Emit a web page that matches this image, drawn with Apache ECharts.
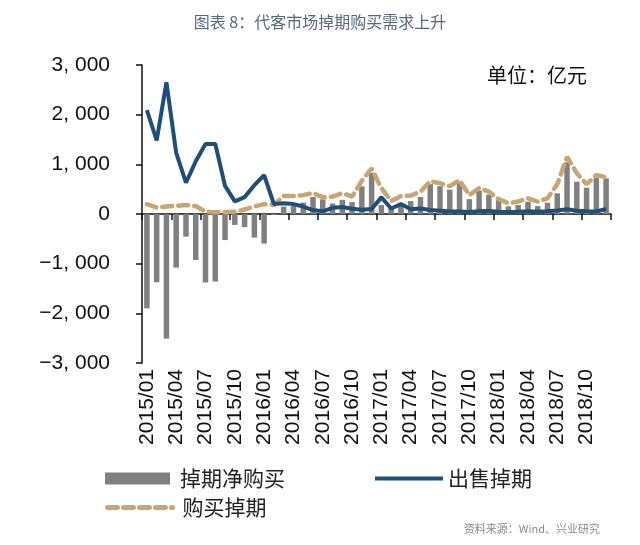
<!DOCTYPE html>
<html>
<head>
<meta charset="utf-8">
<script src="https://cdn.jsdelivr.net/npm/echarts@6/dist/echarts.min.js"></script>
<style>
html,body{margin:0;padding:0;background:#fff;}
#chart{width:640px;height:545px;}
</style>
</head>
<body>
<div id="chart"></div>
<script>
const categories = [
  '2015/01','2015/02','2015/03','2015/04','2015/05','2015/06','2015/07','2015/08','2015/09','2015/10','2015/11','2015/12',
  '2016/01','2016/02','2016/03','2016/04','2016/05','2016/06','2016/07','2016/08','2016/09','2016/10','2016/11','2016/12',
  '2017/01','2017/02','2017/03','2017/04','2017/05','2017/06','2017/07','2017/08','2017/09','2017/10','2017/11','2017/12',
  '2018/01','2018/02','2018/03','2018/04','2018/05','2018/06','2018/07','2018/08','2018/09','2018/10','2018/11','2018/12'
];
// 掉期净购买 (bars)
const netBuy = [
  -1900,-1375,-2510,-1080,-455,-925,-1380,-1360,-525,-220,-265,-475,
  -595,-20,150,160,230,345,295,210,285,240,555,830,
  180,135,160,260,345,600,560,490,640,300,470,390,
  280,155,180,248,160,228,416,1040,651,530,730,718
];
// 出售掉期 (solid line)
const sellSwap = [
  2090,1480,2650,1230,630,1060,1410,1410,565,255,340,580,
  780,200,215,200,150,80,55,125,140,105,85,100,
  335,110,200,95,110,80,65,50,50,40,55,60,
  45,40,45,55,45,55,70,95,65,55,50,100
];
// 购买掉期 (dashed line)
const buySwap = [
  200,130,150,165,180,160,45,35,35,45,90,150,
  200,180,365,360,380,420,340,350,420,350,670,920,
  520,260,362,370,450,660,620,560,680,380,520,450,
  300,215,250,315,250,315,600,1150,820,600,785,740
];
const yTicks = { min: -3000, max: 3000, interval: 1000 };

function fmt(v) {
  const a = Math.abs(v);
  let s;
  if (a >= 1000) {
    s = Math.floor(a / 1000) + ', ' + String(a % 1000).padStart(3, '0');
  } else {
    s = String(a);
  }
  return (v < 0 ? '\u2212' : '') + s;
}

const chart = echarts.init(document.getElementById('chart'), null, { renderer: 'canvas' });
const cjk = '"Noto Sans CJK SC", "Noto Sans", sans-serif';
const latin = '"Liberation Sans", Arial, sans-serif';
const tan = '#c8a674';
const navy = '#1f4e79';

const option = {
  backgroundColor: '#ffffff',
  animation: false,
  title: {
    text: '图表 8：代客市场掉期购买需求上升',
    left: 'center',
    top: 9,
    textStyle: { fontSize: 16, fontWeight: 'normal', color: '#56677e', fontFamily: cjk }
  },
  grid: { left: 142, right: 29, top: 65, bottom: 182 },
  legend: [
    {
      data: [{ name: '掉期净购买', icon: 'rect' }],
      left: 100, top: 463, itemWidth: 65, itemHeight: 12,
      textStyle: { fontSize: 21, color: '#222', fontFamily: cjk, padding: [0, 0, 0, 5] }
    },
    {
      data: ['出售掉期'],
      left: 368, top: 463, itemWidth: 68, itemHeight: 12,
      itemStyle: { opacity: 0 },
      lineStyle: { width: 4 },
      textStyle: { fontSize: 21, color: '#222', fontFamily: cjk }
    },
    {
      data: ['购买掉期'],
      left: 100, top: 492, itemWidth: 65, itemHeight: 12,
      itemStyle: { opacity: 0 },
      lineStyle: { width: 5 },
      textStyle: { fontSize: 21, color: '#222', fontFamily: cjk, padding: [0, 0, 0, 5] }
    }
  ],
  xAxis: [
    {
      type: 'category',
      data: categories,
      boundaryGap: true,
      axisLine: { onZero: true, lineStyle: { color: '#111', width: 1.5 } },
      axisTick: { show: true, interval: 2, length: 6, lineStyle: { color: '#111', width: 1.5 } },
      axisLabel: { show: false },
      splitLine: { show: false }
    },
    {
      type: 'category',
      data: categories,
      position: 'bottom',
      boundaryGap: true,
      axisLine: { show: false, onZero: false },
      axisTick: { show: false },
      axisLabel: {
        interval: 2, rotate: 90, margin: 6,
        fontSize: 21, color: '#111', fontFamily: latin
      },
      splitLine: { show: false }
    }
  ],
  yAxis: {
    type: 'value',
    min: yTicks.min, max: yTicks.max, interval: yTicks.interval,
    axisLine: { show: true, lineStyle: { color: '#111', width: 1.5 } },
    axisTick: { show: true, length: 6, lineStyle: { color: '#111', width: 1.5 } },
    axisLabel: { formatter: fmt, fontSize: 21, color: '#111', fontFamily: latin, margin: 32 },
    splitLine: { show: false }
  },
  series: [
    {
      name: '掉期净购买',
      type: 'bar',
      data: netBuy,
      xAxisIndex: 0,
      barWidth: 5.5,
      itemStyle: { color: '#808080' }
    },
    {
      name: '购买掉期',
      type: 'line',
      data: buySwap,
      xAxisIndex: 0,
      symbol: 'none',
      lineStyle: { color: tan, width: 4.5, type: [10, 6], cap: 'round' },
      itemStyle: { color: tan },
      z: 3
    },
    {
      name: '出售掉期',
      type: 'line',
      data: sellSwap,
      xAxisIndex: 0,
      symbol: 'none',
      lineStyle: { color: navy, width: 4 },
      itemStyle: { color: navy },
      z: 4
    }
  ],
  graphic: [
    {
      type: 'text', left: 487, top: 65,
      style: { text: '单位：亿元', fontSize: 20, fill: '#111', fontFamily: cjk }
    },
    {
      type: 'text', right: 40, top: 523,
      style: { text: '资料来源：Wind、兴业研究', fontSize: 11, fill: '#8a8a8a', fontFamily: cjk }
    }
  ]
};
chart.setOption(option);
</script>
</body>
</html>
